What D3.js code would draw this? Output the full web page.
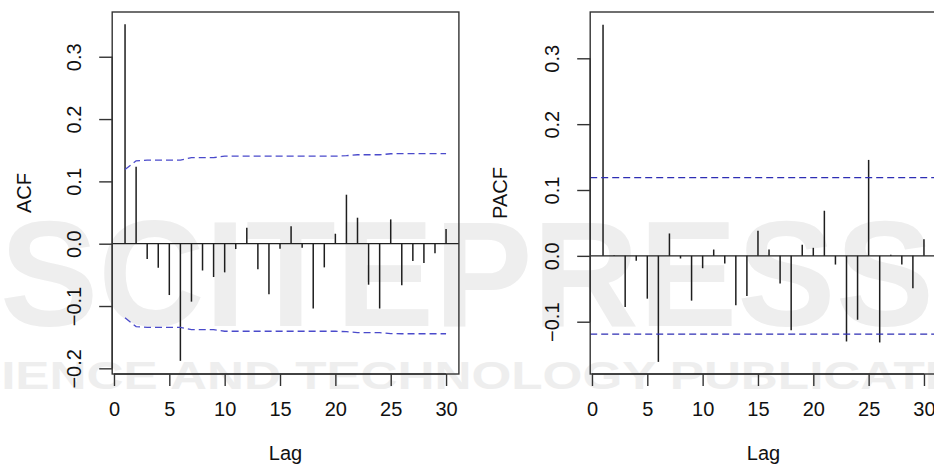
<!DOCTYPE html>
<html>
<head>
<meta charset="utf-8">
<script src="https://cdn.jsdelivr.net/npm/d3@7"></script>
<style>
  html, body { margin: 0; padding: 0; background: #fff; }
  svg { display: block; font-family: "Liberation Sans", Arial, sans-serif; }
</style>
</head>
<body>
<div class="chart"></div>
<script>
// lags and values
var lags = [1, 2, 3, 4, 5, 6, 7, 8, 9, 10, 11, 12, 13, 14, 15, 16, 17, 18, 19, 20, 21, 22, 23, 24, 25, 26, 27, 28, 29, 30];

var acfValues = [0.352, 0.1235, -0.0246, -0.0385, -0.0824, -0.188, -0.093, -0.043, -0.0535, -0.046,
  -0.0086, 0.0257, -0.041, -0.081, -0.008, 0.028, -0.0064, -0.104, -0.038, 0.016,
  0.0786, 0.0417, -0.0658, -0.104, 0.039, -0.0668, -0.0278, -0.031, -0.0155, 0.0235];

// MA-type (Bartlett) confidence band of the ACF, read per lag
var acfBand = [0.119, 0.133, 0.1342, 0.1342, 0.1342, 0.1342, 0.138, 0.138, 0.138, 0.1405,
  0.1405, 0.1405, 0.1405, 0.1405, 0.1405, 0.1405, 0.1405, 0.1405, 0.1405, 0.1405,
  0.1412, 0.1427, 0.1427, 0.1427, 0.1443, 0.1445, 0.1445, 0.1445, 0.1445, 0.1445];

var pacfValues = [0.351, 0.001, -0.0777, -0.0076, -0.065, -0.161, 0.034, -0.004, -0.068, -0.0188,
  0.0096, -0.0117, -0.075, -0.061, 0.038, 0.0096, -0.042, -0.113, 0.0168, 0.0122,
  0.0685, -0.0132, -0.13, -0.097, 0.1457, -0.1315, 0.0015, -0.0132, -0.049, 0.0254];

var pacfBand = 0.1187;

var xTicks = [0, 5, 10, 15, 20, 25, 30];
var acfTicks = [-0.2, -0.1, 0.0, 0.1, 0.2, 0.3];
var pacfTicks = [-0.1, 0.0, 0.1, 0.2, 0.3];

var W = 934, H = 468;
var plotTop = 12, plotBottom = 374;
var fontSize = '20px';

var svg = d3.select('.chart')
  .append('svg')
  .attr('width', W)
  .attr('height', H);

////////////// faint publisher watermark behind the plots //////////////
var wm = svg.append('g').attr('class', 'watermark').style('fill', '#eeeeee');
wm.append('text')
  .attr('x', 0).attr('y', 326)
  .attr('textLength', 934)
  .attr('lengthAdjust', 'spacingAndGlyphs')
  .style('font-size', '150px')
  .style('font-weight', 'bold')
  .text('SCITEPRESS');
wm.append('text')
  .attr('x', -70).attr('y', 389)
  .attr('textLength', 1120)
  .attr('lengthAdjust', 'spacingAndGlyphs')
  .style('font-size', '38px')
  .style('font-weight', 'bold')
  .text('SCIENCE AND TECHNOLOGY PUBLICATIONS');

function drawPanel(opt) {
  var g = svg.append('g');

  var xScale = d3.scaleLinear()
    .domain([-0.16, 31.16])
    .range([opt.left, opt.right]);

  var yScale = d3.scaleLinear()
    .domain(opt.ylim)
    .range([plotBottom, plotTop]);

  // zero line
  g.append('line')
    .attr('x1', opt.left).attr('x2', opt.right)
    .attr('y1', yScale(0)).attr('y2', yScale(0))
    .style('stroke', '#222')
    .style('stroke-width', 1.3);

  // spikes
  g.selectAll('.spike')
    .data(opt.values)
    .enter()
    .append('line')
    .attr('class', 'spike')
    .attr('x1', (d, i) => xScale(lags[i]))
    .attr('x2', (d, i) => xScale(lags[i]))
    .attr('y1', yScale(0))
    .attr('y2', d => yScale(d))
    .style('stroke', '#1e1e1e')
    .style('stroke-width', 1.5);

  // confidence band
  var band = g.append('g').attr('class', 'band');
  if (Array.isArray(opt.band)) {
    var line = d3.line()
      .x((d, i) => xScale(lags[i]))
      .y(d => yScale(d));
    [1, -1].forEach(function (s) {
      band.append('path')
        .attr('d', line(opt.band.map(v => s * v)))
        .style('fill', 'none')
        .style('stroke', '#4a4acb')
        .style('stroke-width', 1.3)
        .style('stroke-dasharray', '7,4');
    });
  } else {
    [1, -1].forEach(function (s) {
      band.append('line')
        .attr('x1', opt.left).attr('x2', opt.right)
        .attr('y1', yScale(s * opt.band)).attr('y2', yScale(s * opt.band))
        .style('stroke', '#2e2eb4')
        .style('stroke-width', 1.3)
        .style('stroke-dasharray', '7,4');
    });
  }

  // box
  g.append('rect')
    .attr('x', opt.left).attr('y', plotTop)
    .attr('width', opt.right - opt.left)
    .attr('height', plotBottom - plotTop)
    .style('fill', 'none')
    .style('stroke', '#333')
    .style('stroke-width', 1.4);

  // x axis
  var xAxis = g.append('g')
    .attr('transform', `translate(0, ${plotBottom})`)
    .call(d3.axisBottom(xScale).tickValues(xTicks).tickSize(12).tickPadding(16).tickSizeOuter(0));
  xAxis.select('.domain')
    .attr('d', `M${xScale(0)},0H${xScale(30)}`)
    .style('stroke', '#333').style('stroke-width', 1.4);
  xAxis.selectAll('.tick line').style('stroke', '#333').style('stroke-width', 1.4);
  xAxis.selectAll('.tick text')
    .style('font-size', fontSize)
    .style('fill', '#111')
    .style('font-family', '"Liberation Sans", Arial, sans-serif');

  // y axis, labels rotated like base R
  var yAxis = g.append('g')
    .attr('transform', `translate(${opt.left}, 0)`)
    .call(d3.axisLeft(yScale).tickValues(opt.yTicks).tickFormat(d3.format('.1f')).tickSize(13).tickSizeOuter(0));
  yAxis.select('.domain')
    .attr('d', `M0,${yScale(opt.yTicks[0])}V${yScale(opt.yTicks[opt.yTicks.length - 1])}`)
    .style('stroke', '#333').style('stroke-width', 1.4);
  yAxis.selectAll('.tick line').style('stroke', '#333').style('stroke-width', 1.4);
  yAxis.selectAll('.tick text')
    .attr('x', null).attr('dy', null)
    .attr('transform', 'translate(-31,0) rotate(-90)')
    .style('text-anchor', 'middle')
    .style('font-size', fontSize)
    .style('fill', '#111')
    .style('font-family', '"Liberation Sans", Arial, sans-serif');

  // axis titles
  g.append('text')
    .attr('x', (opt.left + opt.right) / 2)
    .attr('y', 460)
    .style('text-anchor', 'middle')
    .style('font-size', fontSize)
    .style('fill', '#111')
    .text('Lag');

  g.append('text')
    .attr('transform', `translate(${opt.labelX}, ${(plotTop + plotBottom) / 2}) rotate(-90)`)
    .style('text-anchor', 'middle')
    .style('font-size', fontSize)
    .style('fill', '#111')
    .text(opt.yLabel);
}

drawPanel({
  left: 112.2, right: 458.9,
  ylim: [-0.2091, 0.3718],
  values: acfValues,
  band: acfBand,
  yTicks: acfTicks,
  yLabel: 'ACF',
  labelX: 30.5
});

drawPanel({
  left: 590.2, right: 936.8,
  ylim: [-0.1794, 0.3703],
  values: pacfValues,
  band: pacfBand,
  yTicks: pacfTicks,
  yLabel: 'PACF',
  labelX: 506.5
});
</script>
</body>
</html>
